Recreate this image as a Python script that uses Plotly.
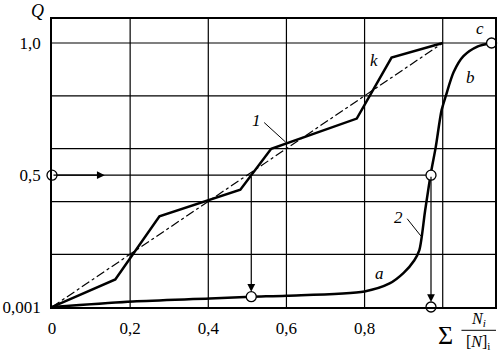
import plotly.graph_objects as go

# ---- data ----
curve_x = [0.0, 0.207, 0.404, 0.51, 0.60, 0.80, 0.864, 0.90, 0.927, 0.94, 0.955, 0.97, 0.982, 0.997, 1.008, 1.028, 1.053, 1.09, 1.125]
curve_q = [0.001, 0.022, 0.033, 0.04, 0.044, 0.06, 0.09, 0.13, 0.177, 0.215, 0.366, 0.51, 0.605, 0.745, 0.80, 0.89, 0.95, 0.987, 1.0]

line1_x = [0.0, 0.162, 0.275, 0.482, 0.561, 0.78, 0.869, 1.0]
line1_q = [0.001, 0.105, 0.344, 0.445, 0.60, 0.714, 0.945, 1.0]

diag_x = [0.0, 1.0]
diag_q = [0.001, 1.0]

circle_x = [0.0, 0.97, 0.51, 0.97, 1.125]
circle_q = [0.5, 0.5, 0.04, 0.001, 1.0]

x_ticks = [0, 0.2, 0.4, 0.6, 0.8]
x_ticklabels = ["0", "0,2", "0,4", "0,6", "0,8"]
y_ticks = [0.001, 0.5, 1.0]
y_ticklabels = ["0,001", "0,5", "1,0"]
grid_x = [0.2, 0.4, 0.6, 0.8, 1.0]
grid_y = [0.2, 0.4, 0.6, 0.8, 1.0]

FONT = "Liberation Serif, DejaVu Serif, Times New Roman, serif"
XR = [0, 1.1338]
YR = [0.001, 1.0908]

fig = go.Figure()

shapes = []
for gx in grid_x:
    shapes.append(dict(type="line", xref="x", yref="y", x0=gx, x1=gx, y0=YR[0], y1=YR[1],
                       line=dict(color="black", width=1.2), layer="below"))
for gy in grid_y:
    shapes.append(dict(type="line", xref="x", yref="y", x0=XR[0], x1=XR[1], y0=gy, y1=gy,
                       line=dict(color="black", width=1.2), layer="below"))
# horizontal 0.5 projection line
shapes.append(dict(type="line", xref="x", yref="y", x0=0, x1=circle_x[1], y0=0.5, y1=0.5,
                   line=dict(color="black", width=1.2), layer="below"))
# leader lines
shapes.append(dict(type="line", xref="x", yref="y", x0=0.543, y0=0.699, x1=0.598, y1=0.625,
                   line=dict(color="black", width=1)))
shapes.append(dict(type="line", xref="x", yref="y", x0=0.909, y0=0.335, x1=0.944, y1=0.27,
                   line=dict(color="black", width=1)))
# fraction bar
shapes.append(dict(type="line", xref="paper", yref="paper",
                   x0=(463 - 48) / 449, x1=(498 - 48) / 449,
                   y0=(306.7 - 330) / 288, y1=(306.7 - 330) / 288,
                   line=dict(color="black", width=1)))

fig.add_trace(go.Scatter(x=diag_x, y=diag_q, mode="lines",
                         line=dict(color="black", width=1.2, dash="dashdot"), showlegend=False))
fig.add_trace(go.Scatter(x=line1_x, y=line1_q, mode="lines",
                         line=dict(color="black", width=2.5), showlegend=False))
fig.add_trace(go.Scatter(x=curve_x, y=curve_q, mode="lines",
                         line=dict(color="black", width=2.5, shape="spline", smoothing=0.8),
                         showlegend=False))
fig.add_trace(go.Scatter(x=circle_x, y=circle_q, mode="markers",
                         marker=dict(size=10, color="white", line=dict(color="black", width=1.3)),
                         cliponaxis=False, showlegend=False))

ann = []
# arrows
ann.append(dict(x=0.135, y=0.5, ax=0.0, ay=0.5, xref="x", yref="y", axref="x", ayref="y",
                text="", showarrow=True, arrowhead=2, arrowsize=1.3, arrowwidth=1.2, arrowcolor="black"))
ann.append(dict(x=circle_x[2], y=circle_q[2], ax=circle_x[2], ay=0.5, xref="x", yref="y", axref="x", ayref="y",
                text="", showarrow=True, arrowhead=2, arrowsize=1.3, arrowwidth=1.2, arrowcolor="black", standoff=5))
ann.append(dict(x=circle_x[3], y=circle_q[3], ax=circle_x[3], ay=0.5, xref="x", yref="y", axref="x", ayref="y",
                text="", showarrow=True, arrowhead=2, arrowsize=1.3, arrowwidth=1.2, arrowcolor="black", standoff=5))

def lab(x, y, t, size=17):
    ann.append(dict(x=x, y=y, xref="x", yref="y", text=t, showarrow=False,
                    xanchor="center", yanchor="middle",
                    font=dict(family=FONT, size=size, color="black")))

lab(0.523, 0.706, "<i>1</i>")
lab(0.823, 0.933, "<i>k</i>")
lab(0.886, 0.34, "<i>2</i>")
lab(0.838, 0.127, "<i>a</i>")
lab(1.071, 0.869, "<i>b</i>")
lab(1.096, 1.054, "<i>c</i>")

def plab(px, py, t, size=17):
    ann.append(dict(x=(px - 48) / 449, y=(306.7 - py) / 288, xref="paper", yref="paper",
                    xanchor="center", yanchor="middle",
                    text=t, showarrow=False, font=dict(family=FONT, size=size, color="black")))

plab(33, 11, "<i>Q</i>", 18)
plab(447, 335, "Σ", 26)
plab(480, 319, "<i>N<sub>i</sub></i>", 16)
plab(480, 342, "[<i>N</i>]<sub>i</sub>", 16)

fig.update_layout(
    width=500, height=354,
    margin=dict(l=48, r=3, t=19, b=47, pad=0),
    paper_bgcolor="white", plot_bgcolor="white",
    font=dict(family=FONT, color="black"),
    shapes=shapes, annotations=ann,
    xaxis=dict(range=XR, tickvals=x_ticks, ticktext=x_ticklabels, showgrid=False, zeroline=False,
               showline=True, linecolor="black", linewidth=1.5, mirror=True,
               ticks="outside", ticklen=5, tickcolor="rgba(0,0,0,0)",
               tickfont=dict(family=FONT, size=17, color="black")),
    yaxis=dict(range=YR, tickvals=y_ticks, ticktext=y_ticklabels, showgrid=False, zeroline=False,
               showline=True, linecolor="black", linewidth=1.5, mirror=True,
               ticks="outside", ticklen=6, tickcolor="rgba(0,0,0,0)",
               tickfont=dict(family=FONT, size=17, color="black")),
)

fig.write_html("out.html")
